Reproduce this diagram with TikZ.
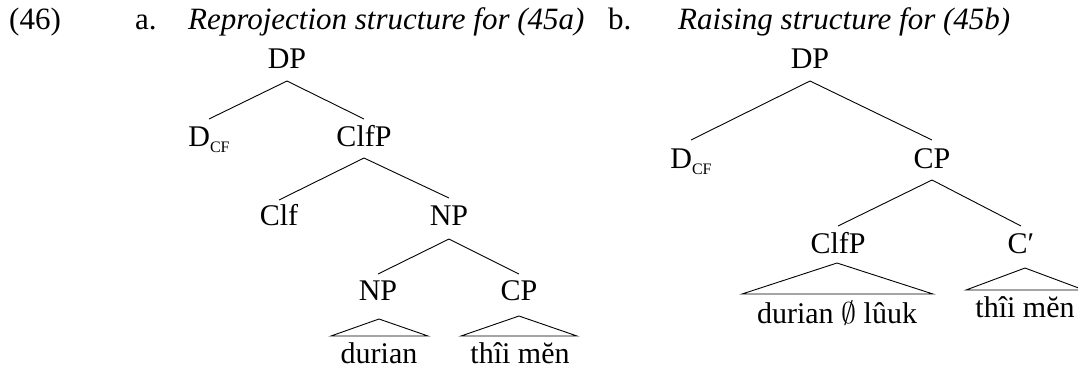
\RequirePackage{fix-cm}
\documentclass[tikz,border=0pt]{standalone}
\usepackage{graphicx}
\usepackage{fontspec}
\setmainfont{Liberation Serif}
\newcommand\Dcf{D\raisebox{-6pt}{\fontsize{16}{16}\selectfont CF}}
\begin{document}
\begin{tikzpicture}[x=1pt,y=-1pt,
  cat/.style={inner sep=0pt, anchor=base, font=\fontsize{30}{36}\selectfont},
  hdr/.style={inner sep=0pt, anchor=base west, font=\fontsize{31}{36}\selectfont},
  branch/.style={line width=0.9pt},
  roof/.style={line width=0.9pt, line join=miter}]
\useasboundingbox (0,0) rectangle (1078,368);
% header
\node[hdr] (n46) at (9,29) {(46)};
\node[hdr] (la) at (135,29) {a.};
\node[hdr] (ta) at (188,29) {\textit{Reprojection structure for (45a)}};
\node[hdr] (lb) at (608,29) {b.};
\node[hdr] (tb) at (678,29) {\textit{Raising structure for (45b)}};
% tree a
\node[cat] (aDP) at (287,68) {DP};
\node[cat] (aD) at (209,146) {\Dcf};
\node[cat] (aClfP) at (364,146) {ClfP};
\node[cat] (aClf) at (279,225) {Clf};
\node[cat] (aNP) at (449,225) {NP};
\node[cat] (aNPb) at (378,300) {NP};
\node[cat] (aCP) at (519,300) {CP};
\node[cat] (aDur) at (379,363) {durian};
\node[cat] (aThi) at (520,363) {thîi mĕn};
\draw[branch] ([yshift=-13pt]aDP.base) -- ([yshift=27pt]aD.base);
\draw[branch] ([yshift=-13pt]aDP.base) -- ([yshift=27pt]aClfP.base);
\draw[branch] ([yshift=-12pt]aClfP.base) -- ([yshift=25pt]aClf.base);
\draw[branch] ([yshift=-12pt]aClfP.base) -- ([yshift=27pt]aNP.base);
\draw[branch] ([yshift=-14pt]aNP.base) -- ([yshift=26pt]aNPb.base);
\draw[branch] ([yshift=-14pt]aNP.base) -- ([yshift=26pt]aCP.base);
\coordinate (aT1) at (379,319);
\coordinate (aT1l) at (331,336);
\coordinate (aT1r) at (428,336);
\draw[roof] (aT1) -- (aT1l) -- (aT1r) -- cycle;
\coordinate (aT2) at (519,316);
\coordinate (aT2l) at (461,336);
\coordinate (aT2r) at (577,336);
\draw[roof] (aT2) -- (aT2l) -- (aT2r) -- cycle;
% tree b
\node[cat] (bDP) at (810,68) {DP};
\node[cat] (bD) at (691,168) {\Dcf};
\node[cat] (bCP) at (932,168) {CP};
\node[cat] (bClfP) at (838,253) {ClfP};
\node[cat] (bC) at (1021,253) {C′};
\node[cat] (bDur) at (837,323) {durian $\emptyset$ lûuk};
\node[cat] (bThi) at (1025,317) {thîi mĕn};
\draw[branch] ([yshift=-13pt]bDP.base) -- ([yshift=28pt]bD.base);
\draw[branch] ([yshift=-13pt]bDP.base) -- ([yshift=28pt]bCP.base);
\draw[branch] ([yshift=-12pt]bCP.base) -- ([yshift=27pt]bClfP.base);
\draw[branch] ([yshift=-12pt]bCP.base) -- ([yshift=27pt]bC.base);
\coordinate (bT1) at (837,263);
\coordinate (bT1l) at (742,294);
\coordinate (bT1r) at (933,294);
\draw[roof] (bT1) -- (bT1l) -- (bT1r) -- cycle;
\coordinate (bT2) at (1025,268);
\coordinate (bT2l) at (966,290);
\coordinate (bT2r) at (1084,290);
\draw[roof] (bT2) -- (bT2l) -- (bT2r) -- cycle;
\end{tikzpicture}
\end{document}
